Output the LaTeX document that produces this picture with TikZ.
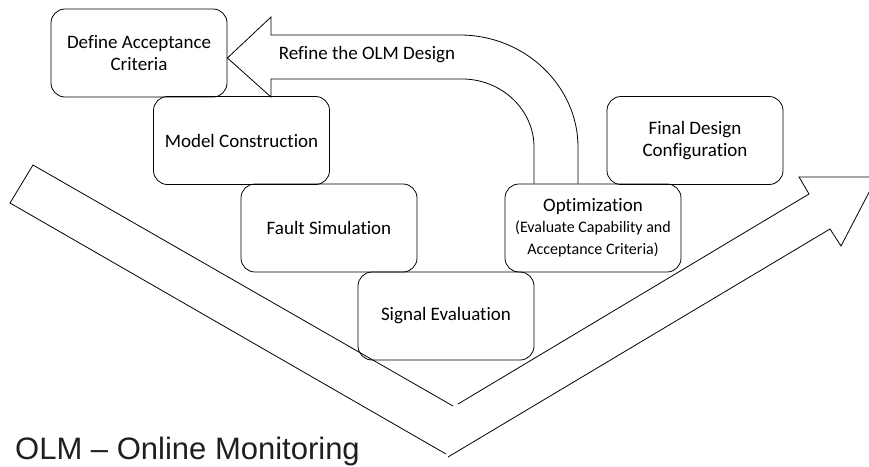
\documentclass[tikz,border=0pt]{standalone}
\usepackage{fontspec}
\setmainfont{Carlito}[Ligatures=NoCommon]
\newfontfamily\captionfont{Liberation Sans}
\begin{document}
\begin{tikzpicture}[x=1pt,y=-1pt,
  line join=miter,
  stage/.style={draw=black, line width=0.8pt, rounded corners=14pt,
    minimum width=176pt, minimum height=88pt, inner sep=2pt,
    align=center, font=\fontsize{19}{22}\selectfont},
  outline/.style={draw=black, line width=0.8pt}]
\useasboundingbox (0,0) rectangle (869,466);
\clip (0,0) rectangle (869,466);

% process stages
\node[stage] (def)   at (139,53)    {Define Acceptance\\Criteria};
\node[stage] (mod)   at (241.5,140.5) {Model Construction};
\node[stage] (fault) at (329,228)   {Fault Simulation};
\node[stage] (sig)   at (446,316)   {Signal Evaluation};
\node[stage] (opt)   at (593,228)   {\fontsize{19}{22}\selectfont Optimization\\[-1pt]
  \fontsize{16}{23}\selectfont (Evaluate Capability and\\
  \fontsize{16}{23}\selectfont Acceptance Criteria)};
\node[stage] (fin)   at (695,140.5) {Final Design\\Configuration};

% feedback arrow from optimization back to the criteria
\coordinate (fbL) at ([xshift=-59pt]opt.north);
\coordinate (fbR) at ([xshift=-15pt]opt.north);
\coordinate (fbTip) at ([yshift=-5pt]def.east);
\draw[outline] (fbL) -- (534,147)
  .. controls (534,110) and (502,79) .. (462,79)
  -- (271,79) -- (271,97) -- (fbTip) -- (271,17) -- (271,35) -- (460,35)
  .. controls (525,35) and (578,86) .. (578,147) -- (fbR);
\node[font=\fontsize{19}{22}\selectfont] (refine) at (367,55) {Refine the OLM Design};

% descending arm of the V
\coordinate (vIn) at (453,406);
\coordinate (vOut) at (446,454);
\draw[outline] (vIn) -- (33,165) -- (10,203) -- (vOut);

% ascending arm of the V with its arrowhead
\coordinate (uIn) at (458,404);
\coordinate (uOut) at (448,457);
\coordinate (uTip) at (877,177);
\draw[outline] (uIn) -- (809,194) -- (799,177) -- (uTip) -- (841,246)
  -- (830,229) -- (uOut);

% caption
\node[anchor=base west, inner sep=0pt, text=black!88,
  font=\captionfont\fontsize{31}{36}\selectfont] (legend) at (15,459)
  {OLM – Online Monitoring};
\end{tikzpicture}
\end{document}
